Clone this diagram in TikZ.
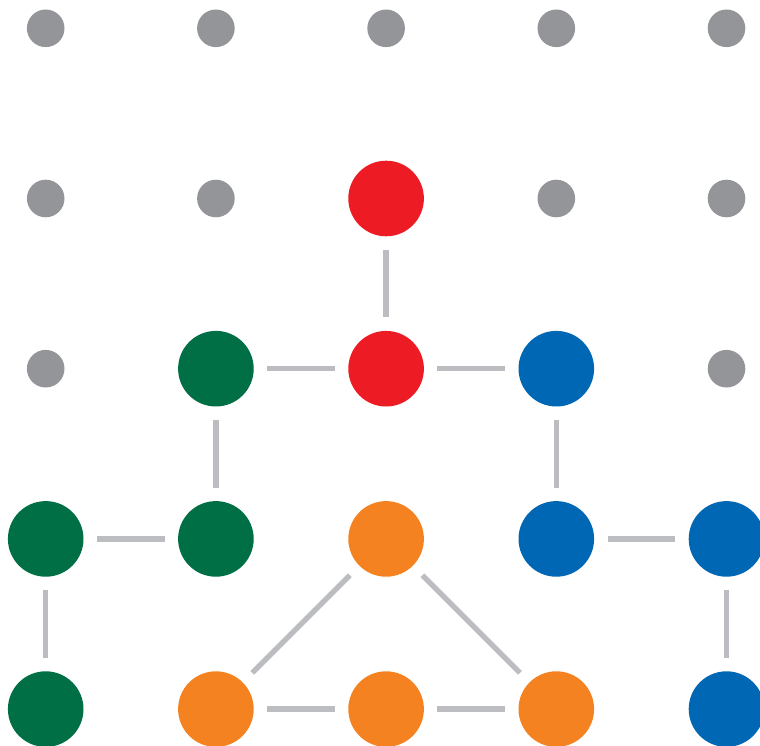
\documentclass[tikz,border=0pt]{standalone}
\definecolor{dotgray}{HTML}{939598}
\definecolor{linegray}{HTML}{BCBDC0}
\definecolor{cred}{HTML}{ED1C24}
\definecolor{cgreen}{HTML}{006F45}
\definecolor{cblue}{HTML}{0067B4}
\definecolor{corange}{HTML}{F58220}
\begin{document}
\begin{tikzpicture}[x=1pt,y=-1pt,
  small/.style={circle,fill=dotgray,inner sep=0,outer sep=0,minimum size=37.6pt},
  big/.style={circle,inner sep=0,outer sep=0,minimum size=75.6pt},
  rednode/.style={big,fill=cred},
  greennode/.style={big,fill=cgreen},
  bluenode/.style={big,fill=cblue},
  orangenode/.style={big,fill=corange},
  link/.style={draw=linegray,line width=5.3pt,shorten >=13.5pt,shorten <=13.5pt}]
\useasboundingbox (0,0) rectangle (760,746);
% row 0
\node[small] (a0) at (45.7,28.3) {};
\node[small] (a1) at (215.9,28.3) {};
\node[small] (a2) at (386.1,28.3) {};
\node[small] (a3) at (556.3,28.3) {};
\node[small] (a4) at (726.5,28.3) {};
% row 1
\node[small] (b0) at (45.7,198.5) {};
\node[small] (b1) at (215.9,198.5) {};
\node[rednode] (b2) at (386.1,198.5) {};
\node[small] (b3) at (556.3,198.5) {};
\node[small] (b4) at (726.5,198.5) {};
% row 2
\node[small] (c0) at (45.7,368.7) {};
\node[greennode] (c1) at (215.9,368.7) {};
\node[rednode] (c2) at (386.1,368.7) {};
\node[bluenode] (c3) at (556.3,368.7) {};
\node[small] (c4) at (726.5,368.7) {};
% row 3
\node[greennode] (d0) at (45.7,538.9) {};
\node[greennode] (d1) at (215.9,538.9) {};
\node[orangenode] (d2) at (386.1,538.9) {};
\node[bluenode] (d3) at (556.3,538.9) {};
\node[bluenode] (d4) at (726.5,538.9) {};
% row 4
\node[greennode] (e0) at (45.7,709.1) {};
\node[orangenode] (e1) at (215.9,709.1) {};
\node[orangenode] (e2) at (386.1,709.1) {};
\node[orangenode] (e3) at (556.3,709.1) {};
\node[bluenode] (e4) at (726.5,709.1) {};
% links
\draw[link] (b2) -- (c2);
\draw[link] (c1) -- (c2);
\draw[link] (c2) -- (c3);
\draw[link] (c1) -- (d1);
\draw[link] (c3) -- (d3);
\draw[link] (d0) -- (d1);
\draw[link] (d3) -- (d4);
\draw[link] (d0) -- (e0);
\draw[link] (d4) -- (e4);
\draw[link] (d2) -- (e1);
\draw[link] (d2) -- (e3);
\draw[link] (e1) -- (e2);
\draw[link] (e2) -- (e3);
\end{tikzpicture}
\end{document}
